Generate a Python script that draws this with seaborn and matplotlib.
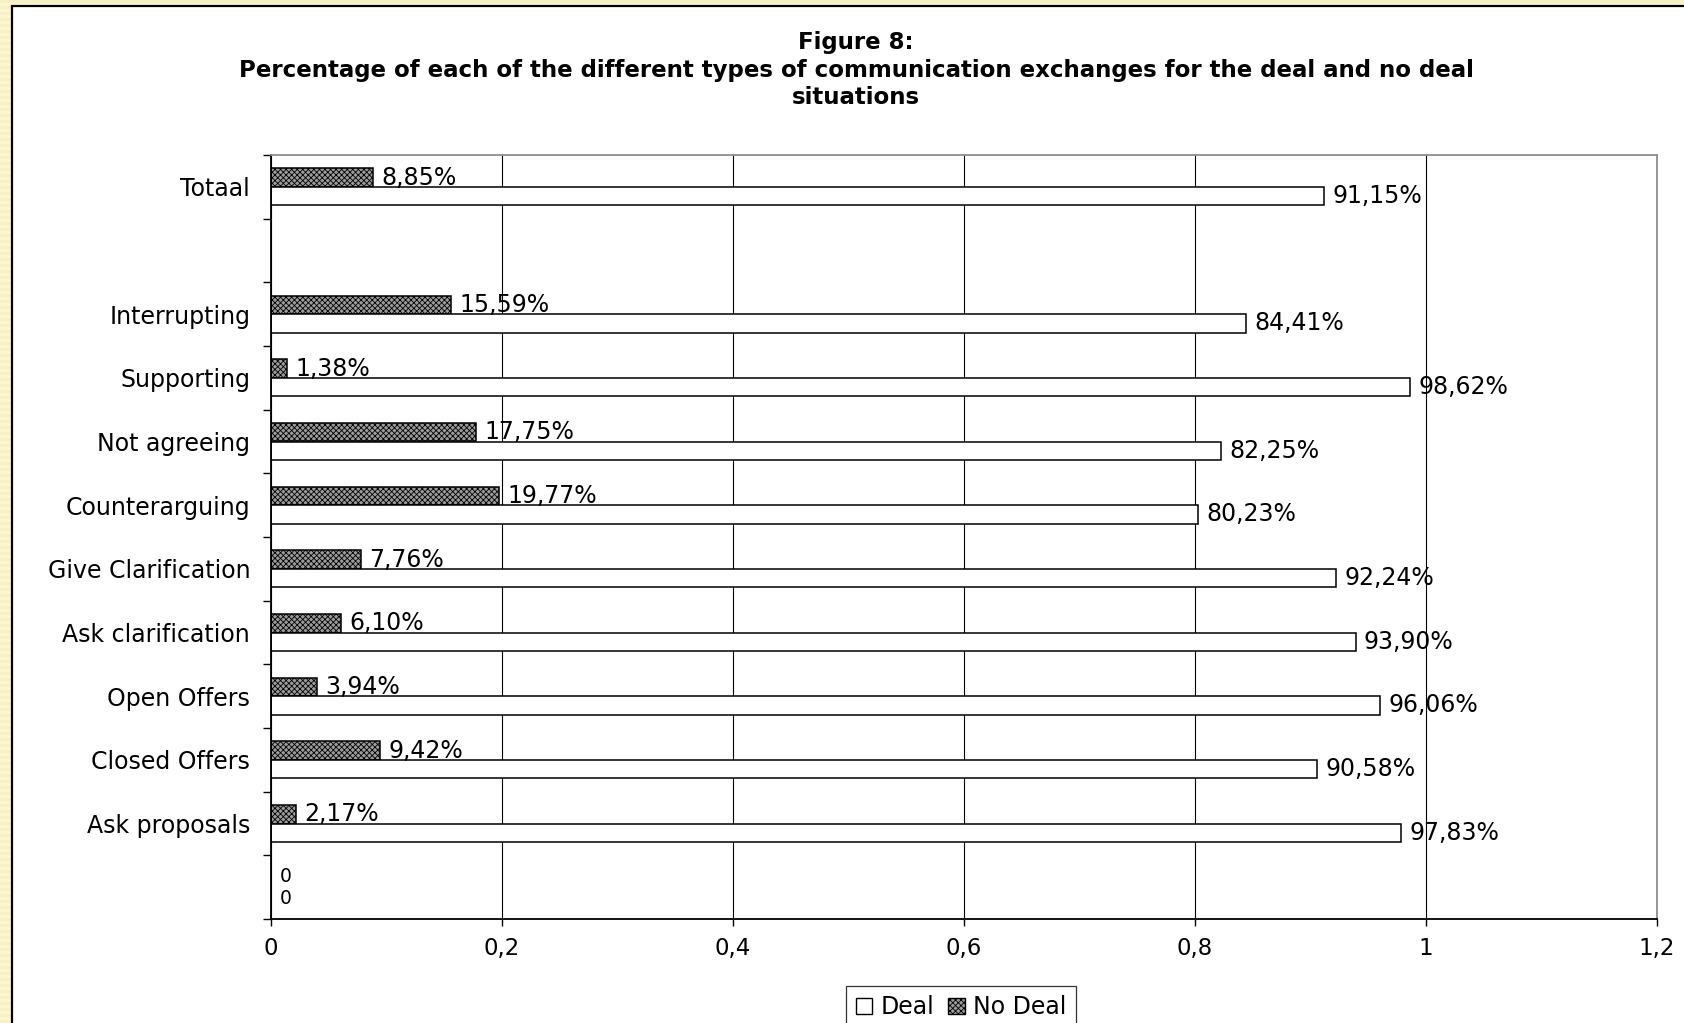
import numpy as np
import pandas as pd
import matplotlib
matplotlib.use("Agg")
import matplotlib.pyplot as plt
from matplotlib.patches import Rectangle, Patch
import seaborn as sns

# Category slots, top to bottom (two slots carry no category name)
categories = ["Totaal", " ", "Interrupting", "Supporting", "Not agreeing",
              "Counterarguing", "Give Clarification", "Ask clarification",
              "Open Offers", "Closed Offers", "Ask proposals", "  "]
tick_labels = ["Totaal", "", "Interrupting", "Supporting", "Not agreeing",
               "Counterarguing", "Give Clarification", "Ask clarification",
               "Open Offers", "Closed Offers", "Ask proposals", ""]

# Categories that have values (the empty spacer slot under "Totaal" has none)
valued_categories = ["Totaal", "Interrupting", "Supporting", "Not agreeing",
                     "Counterarguing", "Give Clarification", "Ask clarification",
                     "Open Offers", "Closed Offers", "Ask proposals", "  "]
no_deal = [0.0885, 0.1559, 0.0138, 0.1775, 0.1977, 0.0776, 0.0610,
           0.0394, 0.0942, 0.0217, 0.0]
deal = [0.9115, 0.8441, 0.9862, 0.8225, 0.8023, 0.9224, 0.9390,
        0.9606, 0.9058, 0.9783, 0.0]

x_ticks = [0, 0.2, 0.4, 0.6, 0.8, 1.0, 1.2]
x_tick_labels = ["0", "0,2", "0,4", "0,6", "0,8", "1", "1,2"]

title_lines = ["Figure 8:",
               "Percentage of each of the different types of communication "
               "exchanges for the deal and no deal",
               "situations"]

df = pd.DataFrame({
    "category": valued_categories * 2,
    "series": ["No Deal"] * len(no_deal) + ["Deal"] * len(deal),
    "value": no_deal + deal,
})

sns.set_style("white")
plt.rcParams["font.family"] = ["DejaVu Sans"]
plt.rcParams["hatch.linewidth"] = 0.6
plt.rcParams["text.color"] = "black"
plt.rcParams["xtick.color"] = "black"
plt.rcParams["ytick.color"] = "black"
plt.rcParams["axes.labelcolor"] = "black"

W, H = 1684, 1023
fig = plt.figure(figsize=(W / 100, H / 100), dpi=100)
fig.patch.set_facecolor("#f8f4c8")

# Pale striped backdrop around the chart sheet
rows = np.arange(H)
stripe = np.where((rows // 3) % 2 == 0, 0.0, 1.0)[:, None, None]
c1 = np.array([0.965, 0.945, 0.765])
c2 = np.array([0.985, 0.972, 0.840])
bg = c1 * (1 - stripe) + c2 * stripe
bg = np.broadcast_to(bg, (H, W, 3)).copy()
fig.figimage(bg, xo=0, yo=0, zorder=-10)

# White chart sheet with black border
fig.add_artist(Rectangle((12 / W, -0.05), 1.2, 1 - 6 / H + 0.05,
                         transform=fig.transFigure, facecolor="white",
                         edgecolor="black", linewidth=1.6, zorder=0))

ax = fig.add_axes([271 / W, 1 - 919 / H, (1657 - 271) / W, (919 - 155) / H])
ax.set_zorder(1)

nodeal_face = "#9c9c9c"
sns.barplot(data=df, y="category", x="value", hue="series",
            order=categories, hue_order=["No Deal", "Deal"],
            palette={"No Deal": nodeal_face, "Deal": "white"},
            width=0.58, orient="h", errorbar=None, legend=False,
            edgecolor="black", linewidth=1.1, saturation=1, ax=ax)

label_size = 17
# Bar containers: first is "No Deal", second is "Deal"
for i, cont in enumerate(ax.containers):
    if i == 0:
        for p in cont:
            p.set_hatch("xxxxxx")
    labels = []
    for p in cont:
        v = p.get_width()
        labels.append("0" if v == 0 else f"{v * 100:.2f}%".replace(".", ","))
    texts = ax.bar_label(cont, labels=labels, padding=6.0, fontsize=label_size,
                         color="black")
    # Zero-valued bars sit in a narrow slot: keep their labels compact
    for p, t in zip(cont, texts):
        if p.get_width() == 0:
            t.set_fontsize(13.5)
            t.xyann = (6.0, 1.2 if i == 0 else -1.2)

ax.set_xlim(0, 1.2)
ax.set_ylim(len(categories) - 0.5, -0.5)
ax.set_xticks(x_ticks)
ax.set_xticklabels(x_tick_labels, fontsize=16.5)
ax.set_yticks(np.arange(-0.5, len(categories), 1.0))
ax.set_yticklabels([])
ax.set_yticks(np.arange(len(categories)), minor=True)
ax.set_yticklabels(tick_labels, minor=True, fontsize=label_size)
ax.tick_params(axis="y", which="major", direction="out", length=6, width=1,
               color="black", left=True)
ax.tick_params(axis="y", which="minor", length=0, pad=15)
ax.tick_params(axis="x", direction="out", length=5, width=1, color="black",
               bottom=True, pad=8)
ax.set_xlabel("")
ax.set_ylabel("")

ax.set_axisbelow(True)
ax.xaxis.grid(True, color="black", linewidth=0.8)
ax.yaxis.grid(False)
ax.get_xgridlines()[-1].set_visible(False)

for side in ["left", "bottom"]:
    ax.spines[side].set_color("black")
    ax.spines[side].set_linewidth(1.3)
for side in ["top", "right"]:
    ax.spines[side].set_visible(True)
    ax.spines[side].set_color("#8c8c8c")
    ax.spines[side].set_linewidth(1.3)

for line, ypix in zip(title_lines, [43, 71, 98]):
    fig.text(856 / W, 1 - ypix / H, line, ha="center", va="center",
             fontsize=16.5, fontweight="bold", color="black")

handles = [Patch(facecolor="white", edgecolor="black", linewidth=1.0, label="Deal"),
           Patch(facecolor=nodeal_face, edgecolor="black", linewidth=1.0,
                 hatch="xxxxxx", label="No Deal")]
leg = fig.legend(handles=handles, loc="upper center",
                 bbox_to_anchor=(961 / W, 1 - 986 / H), ncol=2, frameon=True,
                 fancybox=False, edgecolor="black", fontsize=label_size,
                 handlelength=0.7, handleheight=0.7, handletextpad=0.35,
                 columnspacing=0.6, borderpad=0.4, borderaxespad=0)
leg.get_frame().set_linewidth(0.9)

fig.savefig("out.png", dpi=100, facecolor=fig.get_facecolor())
